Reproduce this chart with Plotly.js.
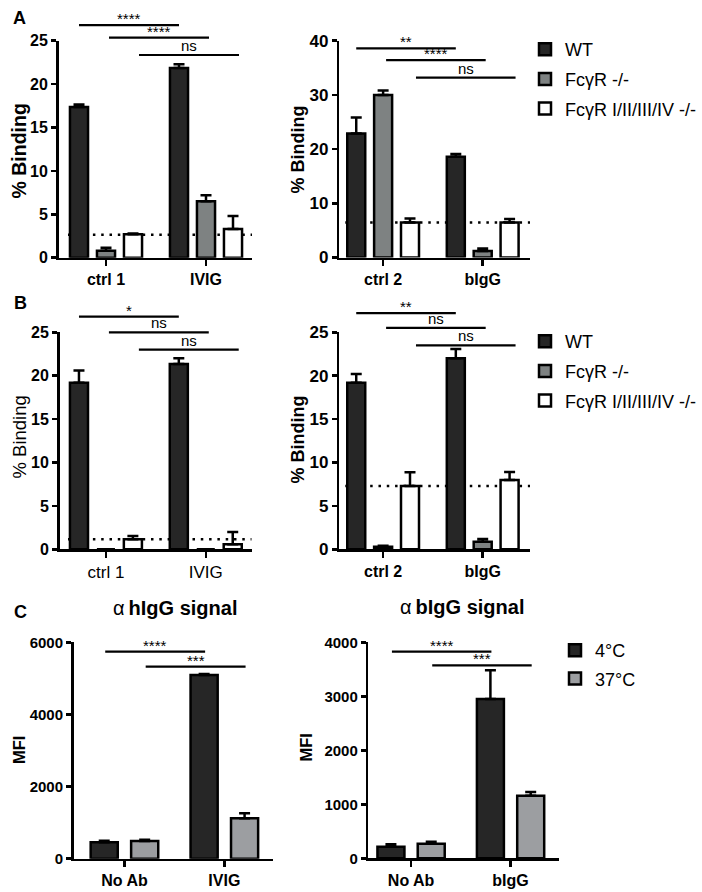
<!DOCTYPE html>
<html><head><meta charset="utf-8">
<script src="https://cdn.plot.ly/plotly-3.0.1.min.js"></script>
<style>html,body{margin:0;padding:0;background:#fff}</style>
</head><body><div id="chart" style="width:702px;height:892px"></div>
<script>
// ---------------- data ----------------
const catsA1 = ['ctrl 1', 'IVIG'];
const catsA2 = ['ctrl 2', 'bIgG'];
const catsC1 = ['No Ab', 'IVIG'];
const catsC2 = ['No Ab', 'bIgG'];
const namesAB = ['WT', 'FcγR -/-', 'FcγR I/II/III/IV -/-'];
const namesC = ['4°C', '37°C'];

// Panel A, left
const a1WT = [17.35, 21.85];   const a1WTErr = [0.3, 0.45];
const a1Fc = [0.8, 6.5];       const a1FcErr = [0.35, 0.7];
const a1Quad = [2.7, 3.3];     const a1QuadErr = [0.1, 1.5];
const a1Base = 2.65;
const a1SigY = [26.8, 25.35, 23.35];  const a1SigLbl = ['****', '****', 'ns'];
// Panel A, right
const a2WT = [22.9, 18.6];     const a2WTErr = [2.95, 0.5];
const a2Fc = [30.0, 1.2];      const a2FcErr = [0.8, 0.45];
const a2Quad = [6.45, 6.45];   const a2QuadErr = [0.75, 0.65];
const a2Base = 6.45;
const a2SigY = [38.6, 36.4, 33.2];    const a2SigLbl = ['**', '****', 'ns'];
// Panel B, left
const b1WT = [19.2, 21.35];    const b1WTErr = [1.4, 0.65];
const b1Fc = [0, 0];           const b1FcErr = [0, 0];
const b1Quad = [1.15, 0.58];   const b1QuadErr = [0.38, 1.42];
const b1Base = 1.15;
const b1SigY = [26.8, 25.0, 23.0];    const b1SigLbl = ['*', 'ns', 'ns'];
// Panel B, right
const b2WT = [19.2, 22.0];     const b2WTErr = [1.0, 1.08];
const b2Fc = [0.3, 0.88];      const b2FcErr = [0.12, 0.31];
const b2Quad = [7.3, 7.98];    const b2QuadErr = [1.57, 0.92];
const b2Base = 7.3;
const b2SigY = [27.2, 25.5, 23.5];    const b2SigLbl = ['**', 'ns', 'ns'];
// Panel C, left (alpha hIgG signal)
const c1Cold = [455, 5094];    const c1ColdErr = [45, 28];
const c1Warm = [490, 1120];    const c1WarmErr = [37, 138];
const c1SigY = [5740, 5324];          const c1SigLbl = ['****', '***'];
// Panel C, right (alpha bIgG signal)
const c2Cold = [215, 2950];    const c2ColdErr = [44, 531];
const c2Warm = [270, 1159];    const c2WarmErr = [37, 69];
const c2SigY = [3826, 3574];          const c2SigLbl = ['****', '***'];

// ---------------- layout helpers ----------------
const W = 702, H = 892;
const FONT = 'Arial, "Liberation Sans", sans-serif';
const xDom = (l, r) => [l / W, r / W];
const yDom = (t, b) => [1 - b / H, 1 - t / H];
const fillAB = ['#262626', '#7e8282', '#ffffff'];
const fillC = ['#262626', '#9c9ea1'];

const panels = [
  {cats: catsA1, vals: [a1WT, a1Fc, a1Quad], errs: [a1WTErr, a1FcErr, a1QuadErr], names: namesAB, fills: fillAB,
   xr: [-0.475, 1.46], yr: [0, 25], dtick: 5, box: [58.5, 252, 40.7, 257.7], base: a1Base,
   sigY: a1SigY, sigL: a1SigLbl, legend: null, bold: true, ytitle: '% Binding', tpos: [18.5, 151, 19.5], ytick: 16},
  {cats: catsA2, vals: [a2WT, a2Fc, a2Quad], errs: [a2WTErr, a2FcErr, a2QuadErr], names: namesAB, fills: fillAB,
   xr: [-0.44, 1.475], yr: [0, 40], dtick: 10, box: [339.3, 530, 40.7, 257.5], base: a2Base,
   sigY: a2SigY, sigL: a2SigLbl, legend: 'legend', bold: true, ytitle: '% Binding', tpos: [297.5, 150, 18], ytick: 17},
  {cats: catsA1, vals: [b1WT, b1Fc, b1Quad], errs: [b1WTErr, b1FcErr, b1QuadErr], names: namesAB, fills: fillAB,
   xr: [-0.465, 1.46], yr: [0, 25], dtick: 5, box: [59.5, 251.7, 332.3, 549.3], base: b1Base,
   sigY: b1SigY, sigL: b1SigLbl, legend: null, bold: false, ytitle: '% Binding', tpos: [18.5, 437, 18.5], ytick: 16},
  {cats: catsA2, vals: [b2WT, b2Fc, b2Quad], errs: [b2WTErr, b2FcErr, b2QuadErr], names: namesAB, fills: fillAB,
   xr: [-0.44, 1.475], yr: [0, 25], dtick: 5, box: [339.3, 530, 332.3, 549.3], base: b2Base,
   sigY: b2SigY, sigL: b2SigLbl, legend: 'legend2', bold: true, ytitle: '% Binding', tpos: [297.5, 440, 18], ytick: 17},
  {cats: catsC1, vals: [c1Cold, c1Warm], errs: [c1ColdErr, c1WarmErr], names: namesC, fills: fillC,
   xr: [-0.51, 1.49], yr: [0, 6000], dtick: 2000, box: [73.5, 273.3, 642.3, 858.7], base: null,
   sigY: c1SigY, sigL: c1SigLbl, legend: null, bold: true, ytitle: 'MFI', tpos: [19, 750, 16.5], ytick: 15},
  {cats: catsC2, vals: [c2Cold, c2Warm], errs: [c2ColdErr, c2WarmErr], names: namesC, fills: fillC,
   xr: [-0.43, 1.49], yr: [0, 4000], dtick: 1000, box: [368.3, 559.3, 642.3, 858.3], base: null,
   sigY: c2SigY, sigL: c2SigLbl, legend: 'legend3', bold: true, ytitle: 'MFI', tpos: [305, 747.5, 16.5], ytick: 15}
];

const traces = [], shapes = [], annotations = [];
const layout = {
  width: W, height: H, margin: {l: 0, r: 0, t: 0, b: 0},
  paper_bgcolor: '#fff', plot_bgcolor: 'rgba(0,0,0,0)',
  font: {family: FONT, color: '#000'},
  barmode: 'group', bargap: 0.19, bargroupgap: 0.33,
  showlegend: true
};

panels.forEach((p, i) => {
  const n = i === 0 ? '' : String(i + 1);
  const xid = 'x' + n, yid = 'y' + n;
  const nSer = p.vals.length;
  p.vals.forEach((v, s) => {
    traces.push({
      type: 'bar', x: p.cats, y: v, name: p.names[s],
      xaxis: xid, yaxis: yid,
      marker: {color: p.fills[s], line: {color: '#000', width: 2.5}},
      error_y: {type: 'data', symmetric: false, array: p.errs[s], arrayminus: p.errs[s].map(() => 0),
                color: '#000', thickness: 2.5, width: 5.5},
      showlegend: !!p.legend, legend: p.legend || 'legend', legendgroup: 'g' + i + s,
      hoverinfo: 'skip'
    });
  });
  const weight = p.bold ? 'bold' : 'normal';
  layout['xaxis' + n] = {
    domain: xDom(p.box[0], p.box[1]), anchor: yid, type: 'category', range: p.xr,
    showline: true, linecolor: '#000', linewidth: 2.5, mirror: false,
    ticks: 'outside', ticklen: 6, tickwidth: 2.5, tickcolor: '#000',
    tickfont: {family: FONT, size: p.bold ? 16 : 17, weight: weight, color: '#000'},
    showgrid: false, zeroline: false, fixedrange: true
  };
  layout['yaxis' + n] = {
    domain: yDom(p.box[2], p.box[3]), anchor: xid, range: p.yr, tick0: 0, dtick: p.dtick,
    showline: true, linecolor: '#000', linewidth: 2.5,
    ticks: 'outside', ticklen: 5, tickwidth: 2.5, tickcolor: '#000',
    tickfont: {family: FONT, size: p.ytick, weight: 'bold', color: '#000'},
    showgrid: false, zeroline: false, fixedrange: true
  };
  // y-axis title (placed as rotated text beside the axis)
  annotations.push({xref: 'paper', yref: 'paper', x: p.tpos[0] / W, y: 1 - p.tpos[1] / H,
                    xanchor: 'center', yanchor: 'middle', textangle: -90, showarrow: false,
                    text: p.ytitle, font: {family: FONT, size: p.tpos[2], weight: weight, color: '#000'}});
  // baseline (dotted)
  if (p.base !== null) {
    shapes.push({type: 'line', layer: 'below', xref: xid, yref: yid, x0: -0.38, x1: p.xr[1], y0: p.base, y1: p.base,
                 line: {color: '#000', width: 2.5, dash: '2.5px,5.8px'}});
  }
  // significance brackets
  const slot = (1 - layout.bargap) / nSer;
  p.sigY.forEach((yv, k) => {
    const off = -((1 - layout.bargap) / 2) + slot * (k + 0.5);
    const x0 = off + (nSer === 3 ? 0.03 * k : 0.01), x1 = x0 + 1.0;
    const yd = yv / p.yr[1];
    shapes.push({type: 'line', xref: xid, yref: yid + ' domain', x0: x0, x1: x1, y0: yd, y1: yd,
                 line: {color: '#000', width: 2.2}});
    const isStar = p.sigL[k].indexOf('*') >= 0;
    annotations.push({xref: xid, yref: yid + ' domain', x: (x0 + x1) / 2, y: yd, text: p.sigL[k],
                      showarrow: false, xanchor: 'center', yanchor: 'bottom', yshift: isStar ? -4 : -1,
                      font: {family: FONT, size: 15, color: '#000'}});
  });
});

// panel letters
[['A', 11, 6], ['B', 12, 291], ['C', 12, 600]].forEach(([t, x, y]) => {
  annotations.push({xref: 'paper', yref: 'paper', x: x / W, y: 1 - y / H, xanchor: 'left', yanchor: 'top',
                    text: '<b>' + t + '</b>', showarrow: false, font: {family: FONT, size: 18, color: '#000'}});
});
// panel C titles
[['α\u2009<b>hIgG signal</b>', 175, 608], ['α\u2009<b>bIgG signal</b>', 462, 607]].forEach(([t, x, y]) => {
  annotations.push({xref: 'paper', yref: 'paper', x: x / W, y: 1 - y / H, xanchor: 'center', yanchor: 'middle',
                    text: t, showarrow: false, font: {family: FONT, size: 20, color: '#000'}});
});

const legendStyle = (left, top, gap) => ({
  x: left / W, y: 1 - top / H, xanchor: 'left', yanchor: 'top', bgcolor: 'rgba(0,0,0,0)',
  borderwidth: 0, tracegroupgap: gap, traceorder: 'grouped', font: {family: FONT, size: 18, color: '#000'}
});
layout.legend = legendStyle(525, 31, 3.3);
layout.legend2 = legendStyle(525, 323, 3.3);
layout.legend3 = legendStyle(555, 632, 2);
layout.shapes = shapes;
layout.annotations = annotations;

Plotly.newPlot('chart', traces, layout, {staticPlot: true, displayModeBar: false});
</script></body></html>
